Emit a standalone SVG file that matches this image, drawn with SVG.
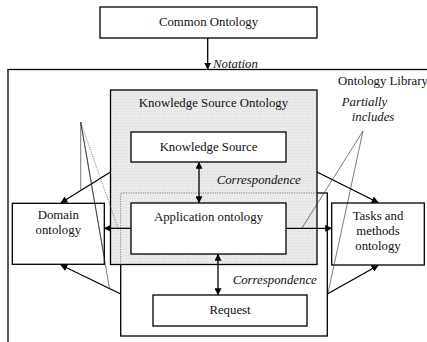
<svg xmlns="http://www.w3.org/2000/svg" width="427" height="342" viewBox="0 0 427 342">
<style>
.box{fill:#fff;stroke:#000;stroke-width:1.3}
.t{font-family:"Liberation Serif","Times New Roman",serif;font-size:12.8px;fill:#111}
.i{font-style:italic}
.c{text-anchor:middle}
.arr{fill:none;stroke:#000;stroke-width:1.3}
.thin{fill:none;stroke:#222;stroke-width:0.6}
.dot{fill:none;stroke:#555;stroke-width:0.7;stroke-dasharray:1.2 1.2}
</style>
<defs>
<marker id="ah" viewBox="0 0 10 10" refX="9" refY="5" markerWidth="7" markerHeight="7" markerUnits="userSpaceOnUse" orient="auto-start-reverse">
<path d="M0,0 L10,5 L0,10 z" fill="#000"/>
</marker>
<pattern id="grid" width="3" height="3" patternUnits="userSpaceOnUse">
<rect width="3" height="3" fill="#ececec"/>
<path d="M0,0.5H3M0.5,0V3" stroke="#e0e0e0" stroke-width="0.5"/>
</pattern>
</defs>
<g id="ontology-library">
<rect x="8" y="69.5" width="430" height="300" fill="#fff" stroke="#000" stroke-width="1.3"/>
<text class="t" x="338" y="85">Ontology Library</text>
</g>
<g id="request-region">
<rect x="120.7" y="193" width="206.6" height="143" fill="none" stroke="#000" stroke-width="1.3"/>
</g>
<g id="knowledge-source-ontology">
<rect x="110.5" y="90" width="206.5" height="174.5" fill="url(#grid)" stroke="#000" stroke-width="1.3"/>
<path class="dot" d="M120.7,264.5V193H317"/>
<text class="t c" x="213.5" y="106.5">Knowledge Source Ontology</text>
</g>
<g id="common-ontology">
<rect class="box" x="100" y="7" width="217" height="31"/>
<text class="t c" x="208.5" y="26">Common Ontology</text>
</g>
<g id="knowledge-source">
<rect class="box" x="131" y="132" width="155" height="30"/>
<text class="t c" x="208.5" y="151">Knowledge Source</text>
</g>
<g id="application-ontology">
<rect class="box" x="131" y="203" width="155" height="51"/>
<text class="t c" x="208.5" y="221">Application ontology</text>
</g>
<g id="request">
<rect class="box" x="153" y="295" width="154" height="31"/>
<text class="t c" x="230" y="314">Request</text>
</g>
<g id="domain-ontology">
<rect class="box" x="12.3" y="203.3" width="92" height="61"/>
<text class="t c" x="58.3" y="219">Domain</text>
<text class="t c" x="58.3" y="234">ontology</text>
</g>
<g id="tasks-methods-ontology">
<rect class="box" x="331.7" y="203" width="92.6" height="62"/>
<text class="t c" x="378" y="220">Tasks and</text>
<text class="t c" x="378" y="235">methods</text>
<text class="t c" x="378" y="250">ontology</text>
</g>
<g id="connectors">
<line class="arr" x1="207.7" y1="38" x2="207.7" y2="69" marker-end="url(#ah)"/>
<line class="arr" x1="199" y1="162.5" x2="199" y2="202.5" marker-start="url(#ah)" marker-end="url(#ah)"/>
<line class="arr" x1="218" y1="254.5" x2="218" y2="294.5" marker-start="url(#ah)" marker-end="url(#ah)"/>
<line class="arr" x1="131" y1="228.3" x2="104.5" y2="228.3" marker-end="url(#ah)"/>
<line class="arr" x1="286" y1="228.3" x2="331.5" y2="228.3" marker-end="url(#ah)"/>
<line class="arr" x1="110.5" y1="172" x2="61" y2="202.8" marker-end="url(#ah)"/>
<line class="arr" x1="120.7" y1="294" x2="61" y2="265" marker-end="url(#ah)"/>
<line class="arr" x1="317" y1="172" x2="378" y2="202.5" marker-end="url(#ah)"/>
<line class="arr" x1="327.3" y1="294" x2="378" y2="265.5" marker-end="url(#ah)"/>
<path class="thin" d="M80.7,122V190M80.7,122L104,256M80.7,122L109.5,288.5"/>
<path class="dot" d="M80.7,122L118,228"/>
<path class="thin" d="M363,131L302,228M363,131L328,293"/>
<text class="t i" x="213" y="68">Notation</text>
<text class="t i" x="216.7" y="183.5">Correspondence</text>
<text class="t i" x="232.7" y="283.5">Correspondence</text>
<text class="t i" x="341.7" y="106">Partially</text>
<text class="t i" x="351.7" y="121">includes</text>
</g>
</svg>
